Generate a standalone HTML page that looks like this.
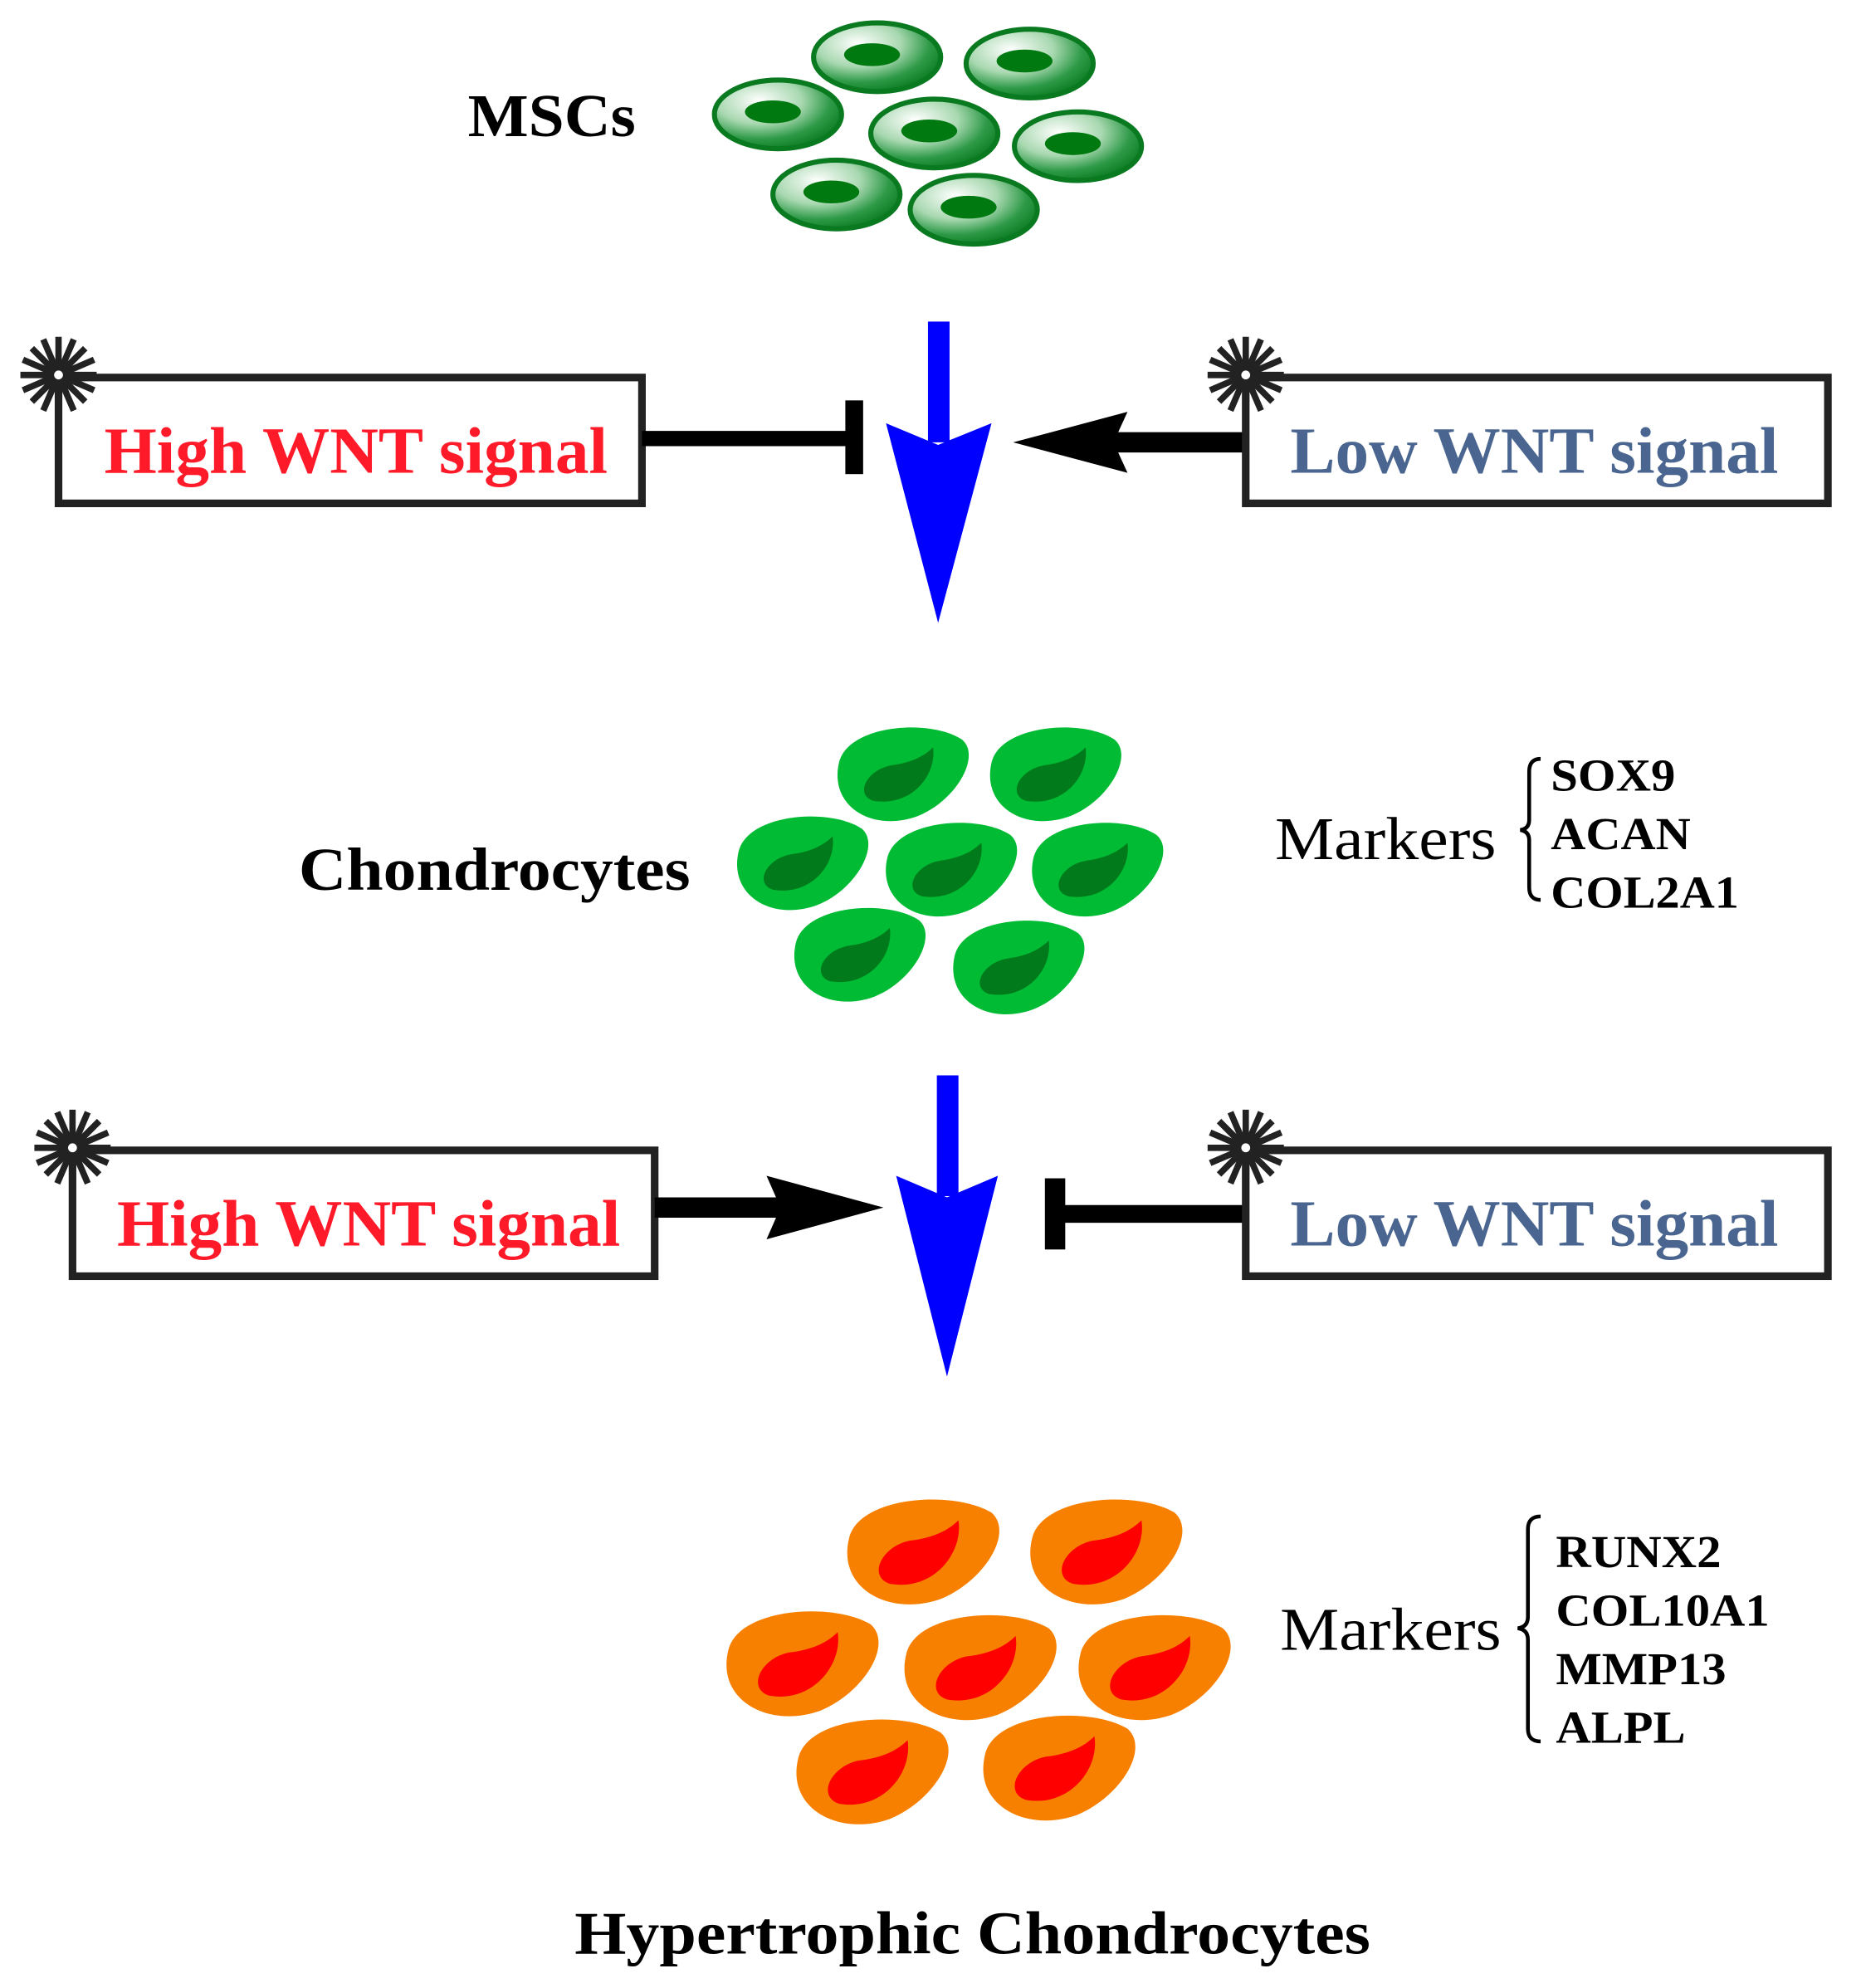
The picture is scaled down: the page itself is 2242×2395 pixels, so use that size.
<!DOCTYPE html>
<html><head><meta charset="utf-8"><style>html,body{margin:0;padding:0;background:#fff}svg{display:block}</style></head>
<body>
<svg width="2242" height="2395" viewBox="0 0 1464 1564" xmlns="http://www.w3.org/2000/svg" font-family="Liberation Serif, serif">
<defs>
<radialGradient id="mg" cx="0.35" cy="0.3" r="0.75">
<stop offset="0" stop-color="#ffffff"/><stop offset="0.45" stop-color="#a8d8b0"/><stop offset="0.75" stop-color="#2e9a48"/><stop offset="1" stop-color="#0a7a20"/>
</radialGradient>
<g id="msc"><ellipse rx="50" ry="27" fill="url(#mg)" stroke="#0a7a20" stroke-width="4"/><ellipse cx="-4" cy="-2" rx="22" ry="9" fill="#007a10"/></g>
<g id="gc"><path d="M-52,-10 C-45,-40 20,-45 45,-28 C60,-15 40,20 10,32 C-25,45 -60,25 -52,-10 Z" fill="#00bb33"/><path d="M-25,20 C-40,15 -30,-5 -10,-8 C5,-10 15,-15 22,-22 C25,0 5,25 -25,20 Z" fill="#007a1a"/></g>
<g id="oc"><path d="M-60,-12 C-52,-45 22,-50 52,-32 C70,-16 46,22 12,36 C-28,50 -70,28 -60,-12 Z" fill="#f88000"/><path d="M-28,24 C-46,18 -34,-6 -12,-10 C6,-12 18,-18 26,-26 C30,0 6,30 -28,24 Z" fill="#ff0000"/></g>
<g id="ast" stroke="#222" stroke-width="5"><line x1="0" y1="-30" x2="0" y2="30"/><line x1="-30" y1="0" x2="30" y2="0"/><line x1="-21" y1="-21" x2="21" y2="21"/><line x1="-21" y1="21" x2="21" y2="-21"/><line x1="-12" y1="-28" x2="12" y2="28"/><line x1="12" y1="-28" x2="-12" y2="28"/><line x1="-28" y1="-12" x2="28" y2="12"/><line x1="-28" y1="12" x2="28" y2="-12"/><circle r="6" fill="#fff"/></g>
</defs>

<text x="368" y="107" font-size="48" font-weight="bold" textLength="132" lengthAdjust="spacingAndGlyphs">MSCs</text>
<use href="#msc" x="690" y="45"/><use href="#msc" x="810" y="50"/><use href="#msc" x="612" y="90"/><use href="#msc" x="735" y="105"/><use href="#msc" x="848" y="115"/><use href="#msc" x="658" y="153"/><use href="#msc" x="766" y="165"/>

<rect x="46" y="297" width="459" height="99" fill="none" stroke="#222" stroke-width="6"/>
<use href="#ast" x="46" y="295"/>
<text x="82" y="372" font-size="52" font-weight="bold" fill="#ff1a2a" textLength="396" lengthAdjust="spacingAndGlyphs">High  WNT signal</text>
<line x1="505" y1="345" x2="672" y2="345" stroke="#000" stroke-width="12"/>
<rect x="665" y="315" width="14" height="58" fill="#000"/>
<rect x="730" y="253" width="17" height="95" fill="#0000ff"/>
<polygon points="697,333 738,350 780,333 738,490" fill="#0000ff"/>
<line x1="978" y1="348" x2="870" y2="348" stroke="#000" stroke-width="16"/>
<polygon points="797,348 887,324 876,348 887,372" fill="#000"/>
<rect x="980" y="297" width="458" height="99" fill="none" stroke="#222" stroke-width="6"/>
<use href="#ast" x="980" y="295"/>
<text x="1015" y="372" font-size="52" font-weight="bold" fill="#4a6690" textLength="384" lengthAdjust="spacingAndGlyphs">Low WNT signal</text>

<text x="235" y="700" font-size="48" font-weight="bold" textLength="308" lengthAdjust="spacingAndGlyphs">Chondrocytes</text>
<use href="#gc" x="712" y="610"/><use href="#gc" x="832" y="610"/><use href="#gc" x="633" y="680"/><use href="#gc" x="750" y="685"/><use href="#gc" x="865" y="685"/><use href="#gc" x="678" y="752"/><use href="#gc" x="803" y="762"/>
<text x="1003" y="676" font-size="48" textLength="174" lengthAdjust="spacingAndGlyphs">Markers</text>
<path d="M1212,597 Q1203,597 1203,607 L1203,645 Q1203,652 1196,653 Q1203,654 1203,661 L1203,698 Q1203,708 1212,708" fill="none" stroke="#000" stroke-width="3"/>
<g font-size="36" font-weight="bold"><text x="1220" y="622" textLength="98" lengthAdjust="spacingAndGlyphs">SOX9</text><text x="1220" y="668" textLength="110" lengthAdjust="spacingAndGlyphs">ACAN</text><text x="1220" y="714" textLength="148" lengthAdjust="spacingAndGlyphs">COL2A1</text></g>

<rect x="57" y="905" width="458" height="99" fill="none" stroke="#222" stroke-width="6"/>
<use href="#ast" x="57" y="903"/>
<text x="92" y="980" font-size="52" font-weight="bold" fill="#ff1a2a" textLength="396" lengthAdjust="spacingAndGlyphs">High  WNT signal</text>
<line x1="515" y1="950" x2="615" y2="950" stroke="#000" stroke-width="16"/>
<polygon points="695,950 603,925 614,950 603,975" fill="#000"/>
<rect x="737" y="846" width="17" height="95" fill="#0000ff"/>
<polygon points="705,925 745,942 785,925 745,1083" fill="#0000ff"/>
<rect x="822" y="927" width="16" height="56" fill="#000"/>
<line x1="830" y1="955" x2="980" y2="955" stroke="#000" stroke-width="14"/>
<rect x="980" y="905" width="458" height="99" fill="none" stroke="#222" stroke-width="6"/>
<use href="#ast" x="980" y="903"/>
<text x="1015" y="980" font-size="52" font-weight="bold" fill="#4a6690" textLength="384" lengthAdjust="spacingAndGlyphs">Low  WNT signal</text>

<use href="#oc" x="728" y="1222"/><use href="#oc" x="872" y="1222"/><use href="#oc" x="633" y="1310"/><use href="#oc" x="773" y="1313"/><use href="#oc" x="910" y="1313"/><use href="#oc" x="688" y="1395"/><use href="#oc" x="835" y="1392"/>
<text x="1007" y="1298" font-size="48" textLength="174" lengthAdjust="spacingAndGlyphs">Markers</text>
<path d="M1212,1193 Q1202,1193 1202,1203 L1202,1272 Q1202,1280 1194,1281 Q1202,1282 1202,1290 L1202,1360 Q1202,1370 1212,1370" fill="none" stroke="#000" stroke-width="3"/>
<g font-size="36" font-weight="bold"><text x="1224" y="1233" textLength="130" lengthAdjust="spacingAndGlyphs">RUNX2</text><text x="1224" y="1279" textLength="168" lengthAdjust="spacingAndGlyphs">COL10A1</text><text x="1224" y="1325" textLength="134" lengthAdjust="spacingAndGlyphs">MMP13</text><text x="1224" y="1371" textLength="102" lengthAdjust="spacingAndGlyphs">ALPL</text></g>
<text x="452" y="1537" font-size="48" font-weight="bold" textLength="626" lengthAdjust="spacingAndGlyphs">Hypertrophic Chondrocytes</text>
</svg>
</body></html>
